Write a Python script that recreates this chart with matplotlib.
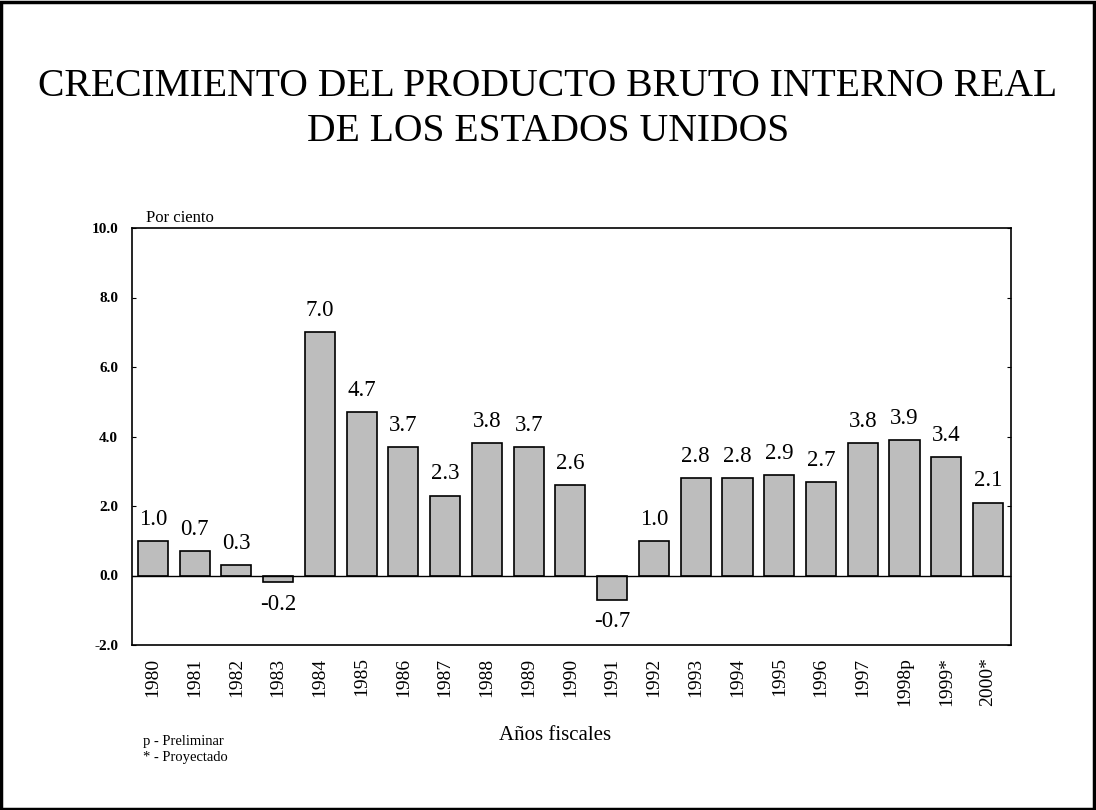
import matplotlib.pyplot as plt
from matplotlib.patches import Rectangle

YEARS = ["1980", "1981", "1982", "1983", "1984", "1985", "1986", "1987",
         "1988", "1989", "1990", "1991", "1992", "1993", "1994", "1995",
         "1996", "1997", "1998p", "1999*", "2000*"]
GROWTH = [1.0, 0.7, 0.3, -0.2, 7.0, 4.7, 3.7, 2.3, 3.8, 3.7, 2.6, -0.7,
          1.0, 2.8, 2.8, 2.9, 2.7, 3.8, 3.9, 3.4, 2.1]
Y_TICKS = [-2.0, 0.0, 2.0, 4.0, 6.0, 8.0, 10.0]

SERIF = ["Liberation Serif", "DejaVu Serif"]


def main():
    plt.rcParams["font.family"] = SERIF
    fig = plt.figure(figsize=(10.96, 8.10), dpi=100)

    # frame around the whole page
    fig.patches.append(Rectangle((0.001, 0.001), 0.997, 0.997,
                                 transform=fig.transFigure, fill=False,
                                 edgecolor="black", linewidth=2.5))

    fig.text(0.5, 0.893, "CRECIMIENTO DEL PRODUCTO BRUTO INTERNO REAL",
             ha="center", va="center", fontsize=28.5)
    fig.text(0.5, 0.838, "DE LOS ESTADOS UNIDOS",
             ha="center", va="center", fontsize=28.5)

    ax = fig.add_axes([132 / 1096, 1 - 645 / 810, (1011 - 132) / 1096,
                       (645 - 228) / 810])
    x = list(range(len(YEARS)))
    ax.bar(x, GROWTH, width=0.72, color="#bdbdbd", edgecolor="black",
           linewidth=1.2, zorder=2)
    ax.axhline(0, color="black", linewidth=1.0, zorder=3)

    for xi, v in zip(x, GROWTH):
        if v >= 0:
            ax.annotate(f"{v:.1f}", (xi, v), xytext=(0, 8),
                        textcoords="offset points", ha="center",
                        va="bottom", fontsize=16.5)
        else:
            ax.annotate(f"{v:.1f}", (xi, v), xytext=(0, -8),
                        textcoords="offset points", ha="center",
                        va="top", fontsize=16.5)

    ax.set_xlim(-0.5, len(YEARS) - 0.45)
    ax.set_ylim(-2.0, 10.0)
    ax.set_yticks(Y_TICKS)
    ax.set_yticklabels([f"{t:.1f}" for t in Y_TICKS], fontsize=11,
                       fontweight="bold")
    ax.set_xticks(x)
    ax.set_xticklabels(YEARS, rotation=90, fontsize=14)
    ax.tick_params(axis="x", length=0, pad=9)
    ax.tick_params(axis="y", direction="in", length=3, right=True, pad=10)
    for s in ax.spines.values():
        s.set_linewidth(1.2)

    ax.text(0.016, 1.005, "Por ciento", transform=ax.transAxes,
            ha="left", va="bottom", fontsize=12)

    fig.text(555 / 1096, 1 - 735 / 810, "Años fiscales", ha="center",
             va="center", fontsize=15)
    fig.text(143 / 1096, 1 - 741 / 810, "p - Preliminar", ha="left",
             va="center", fontsize=10.5)
    fig.text(143 / 1096, 1 - 758 / 810, "* - Proyectado", ha="left",
             va="center", fontsize=10.5)

    fig.savefig("out.png", dpi=100)


if __name__ == "__main__":
    main()
